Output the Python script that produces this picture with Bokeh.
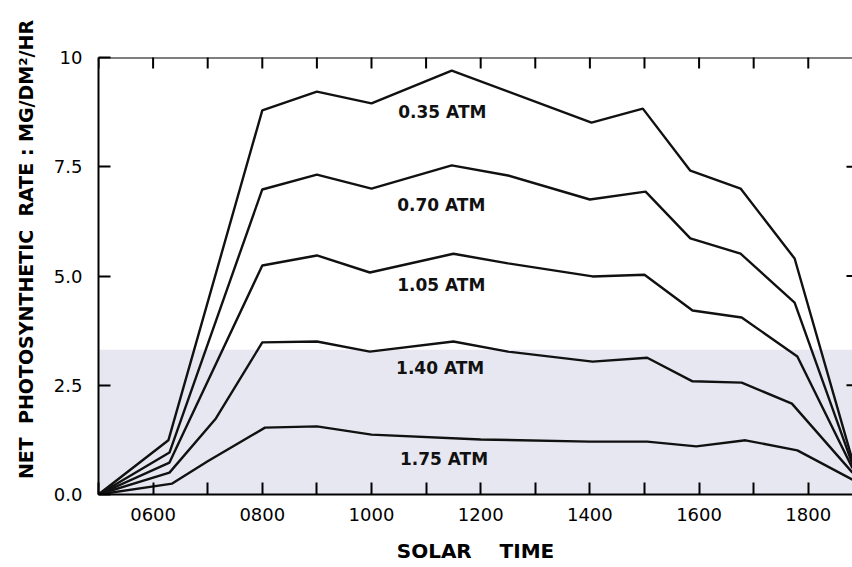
import math
from bokeh.plotting import figure
from bokeh.models import FixedTicker, Range1d, BoxAnnotation, Span
from bokeh.core.properties import value
from bokeh.embed import file_html
from bokeh.resources import INLINE

# ---- data ----
hours_035 = [5.0, 6.28, 8.0, 9.0, 10.0, 11.47, 14.03, 14.97, 15.84, 16.76, 17.75, 18.81]
rate_035 = [0.0, 1.24, 8.79, 9.22, 8.95, 9.70, 8.51, 8.83, 7.41, 7.00, 5.40, 0.78]

hours_070 = [5.0, 6.3, 8.0, 9.0, 10.0, 11.47, 12.5, 14.0, 15.02, 15.84, 16.76, 17.75, 18.81]
rate_070 = [0.0, 0.96, 6.98, 7.32, 7.00, 7.53, 7.30, 6.75, 6.93, 5.86, 5.51, 4.39, 0.69]

hours_105 = [5.0, 6.3, 8.0, 9.0, 9.97, 11.5, 12.5, 14.05, 15.0, 15.88, 16.78, 17.8, 18.81]
rate_105 = [0.0, 0.73, 5.24, 5.47, 5.08, 5.51, 5.29, 4.99, 5.03, 4.21, 4.05, 3.16, 0.60]

hours_140 = [5.0, 6.3, 7.15, 8.0, 9.0, 9.97, 11.5, 12.5, 14.05, 15.05, 15.88, 16.78, 17.7, 18.81]
rate_140 = [0.0, 0.50, 1.74, 3.48, 3.50, 3.27, 3.50, 3.27, 3.04, 3.13, 2.59, 2.56, 2.08, 0.50]

hours_175 = [5.0, 6.35, 7.0, 8.05, 9.0, 10.0, 12.0, 14.0, 15.05, 15.95, 16.85, 17.8, 18.81]
rate_175 = [0.0, 0.25, 0.76, 1.53, 1.56, 1.37, 1.26, 1.21, 1.21, 1.10, 1.24, 1.01, 0.34]

series_labels = ["0.35 ATM", "0.70 ATM", "1.05 ATM", "1.40 ATM", "1.75 ATM"]
label_x = [10.49, 10.47, 10.47, 10.45, 10.52]
label_y = [8.76, 6.62, 4.80, 2.90, 0.82]

x_major = [6, 8, 10, 12, 14, 16, 18]
x_minor = [5, 7, 9, 11, 13, 15, 17]
x_tick_labels = {h: f"{h:02d}00" for h in x_major}
y_ticks = [0, 2.5, 5, 7.5, 10]
y_tick_labels = {0: "0.0", 2.5: "2.5", 5: "5.0", 7.5: "7.5", 10: "10"}

FONT = "DejaVu Sans"
NB = "\u00a0"

X0, X1, Y0, Y1 = 5, 18.81, 0, 10
p = figure(width=852, height=567, x_range=Range1d(X0, X1), y_range=Range1d(Y0, Y1),
           output_backend="svg", toolbar_location=None,
           min_border_left=98, min_border_right=0, min_border_top=57, min_border_bottom=73)
p.xgrid.visible = False
p.ygrid.visible = False
p.outline_line_color = None
p.background_fill_color = "white"
p.border_fill_color = "white"

# faint tint of the scanned page in its lower part
p.add_layout(BoxAnnotation(bottom=Y0, top=3.31, fill_color="#e7e7f2", fill_alpha=1,
                           line_color=None, level="underlay"))

def style_axis(ax, tick_in):
    ax.axis_line_color = "black"
    ax.axis_line_width = 2
    ax.major_tick_line_color = "black"
    ax.major_tick_line_width = 2
    ax.major_tick_in = tick_in
    ax.major_tick_out = 0
    ax.major_label_text_font = FONT
    ax.major_label_text_font_size = "18px"
    ax.major_label_text_color = "black"
    ax.axis_label_text_font = FONT
    ax.axis_label_text_font_style = "bold"
    ax.axis_label_text_color = "black"

xa = p.xaxis[0]
xa.ticker = FixedTicker(ticks=x_major, minor_ticks=x_minor)
xa.major_label_overrides = x_tick_labels
style_axis(xa, 12)
xa.minor_tick_line_color = "black"
xa.minor_tick_line_width = 2
xa.minor_tick_in = 12
xa.minor_tick_out = 0
xa.major_label_standoff = 13
xa.axis_label = f"SOLAR{NB*4}TIME"
xa.axis_label_text_font_size = "20px"
xa.axis_label_standoff = 15

ya = p.yaxis[0]
ya.ticker = FixedTicker(ticks=y_ticks)
ya.major_label_overrides = y_tick_labels
style_axis(ya, 12)
ya.minor_tick_line_color = None
ya.major_label_standoff = 16
ya.axis_label = f"{NB*8}NET{NB*2}PHOTOSYNTHETIC{NB*2}RATE{NB}:{NB}MG/DM²/HR"
ya.axis_label_text_font_size = "19px"
ya.axis_label_standoff = 14

# top frame line with inward ticks at every hour
p.add_layout(Span(location=Y1, dimension="width", line_color="black", line_width=2))
p.scatter(x=x_major + x_minor, y=[Y1] * (len(x_major) + len(x_minor)), marker="dash",
          angle=math.pi / 2, size=22, line_color="black", line_width=2)
# right edge inward ticks
p.scatter(x=[X1] * 3, y=y_ticks[1:4], marker="dash", size=12, line_color="black", line_width=2)

for hx, ry in [(hours_035, rate_035), (hours_070, rate_070), (hours_105, rate_105),
               (hours_140, rate_140), (hours_175, rate_175)]:
    p.line(hx, ry, line_color="#111111", line_width=2.4)

p.text(x=label_x, y=label_y, text=series_labels, text_font=value(FONT), text_font_style="bold",
       text_font_size="17px", text_baseline="middle", text_align="left", text_color="#111111")

open("out.html", "w").write(file_html(p, INLINE))
